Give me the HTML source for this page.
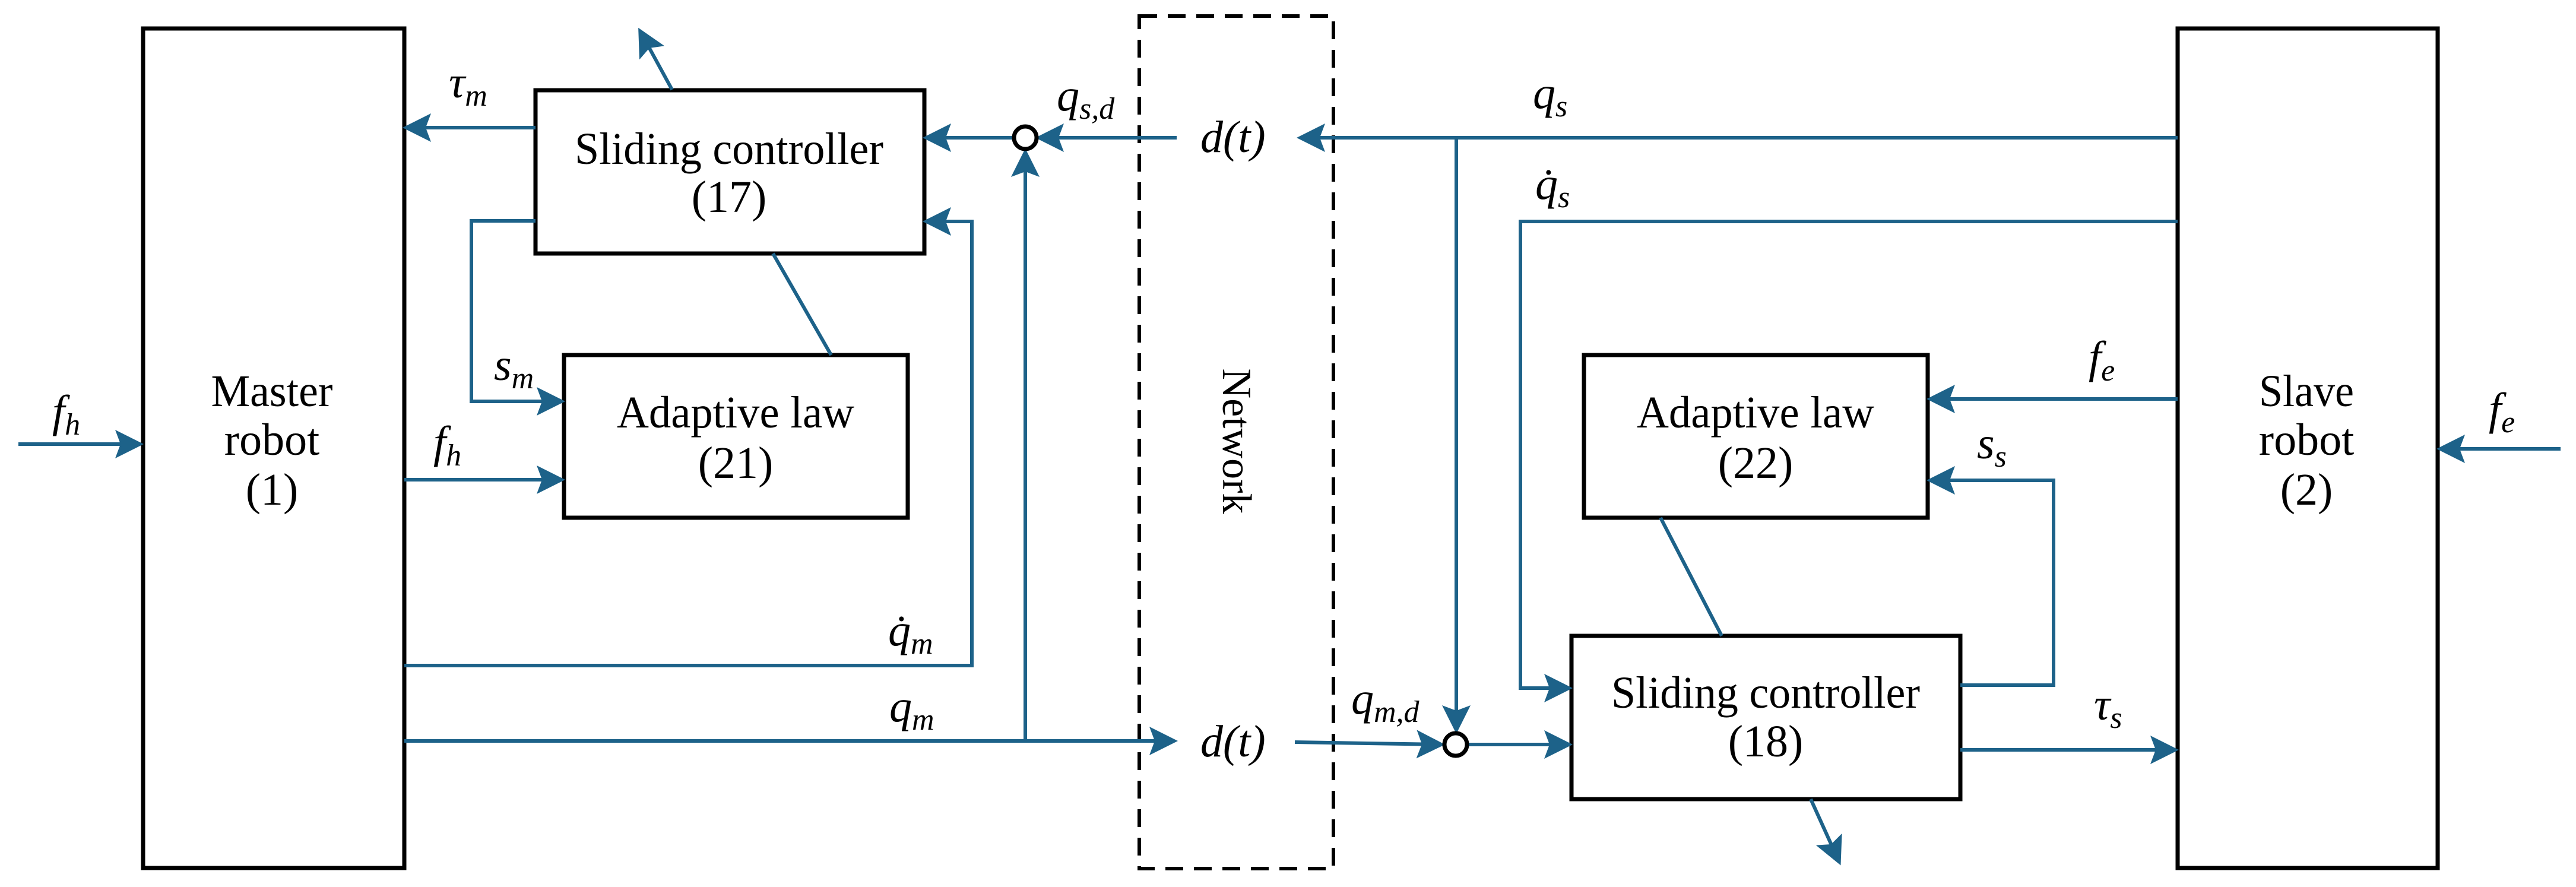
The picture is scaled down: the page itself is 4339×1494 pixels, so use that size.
<!DOCTYPE html>
<html><head><meta charset="utf-8"><style>html,body{margin:0;padding:0;background:#fff}svg{display:block}</style></head>
<body>
<svg width="4339" height="1494" viewBox="0 0 4339 1494" xmlns="http://www.w3.org/2000/svg">
<defs>
<marker id="a" markerWidth="9" markerHeight="9" refX="7" refY="4.5" orient="auto" markerUnits="strokeWidth">
<path d="M0,0.5 L8,4.5 L0,8.5 L1.5,4.5 Z" fill="#1d6289"/></marker>
</defs>
<g fill="none" stroke="#000" stroke-width="7">
<rect x="241" y="48" width="440" height="1414"/>
<rect x="3668" y="48" width="438" height="1414"/>
<rect x="902" y="152" width="655" height="275"/>
<rect x="950" y="598" width="579" height="274"/>
<rect x="2668" y="598" width="579" height="274"/>
<rect x="2647" y="1071" width="655" height="275"/>
<rect x="1919" y="27" width="327" height="1436" stroke-dasharray="30,18" stroke-width="6"/>
</g>
<g fill="none" stroke="#1d6289" stroke-width="6">
<line x1="31" y1="748" x2="236" y2="748" marker-end="url(#a)"/>
<line x1="902" y1="215" x2="684" y2="215" marker-end="url(#a)"/>
<line x1="1132" y1="151" x2="1078" y2="52" marker-end="url(#a)"/>
<line x1="1982" y1="232" x2="1750" y2="232" marker-end="url(#a)"/>
<line x1="1707" y1="232" x2="1560" y2="232" marker-end="url(#a)"/>
<line x1="1727" y1="1248" x2="1727" y2="256" marker-end="url(#a)"/>
<polyline points="902,372 794,372 794,676 946,676" marker-end="url(#a)"/>
<line x1="681" y1="808" x2="946" y2="808" marker-end="url(#a)"/>
<polyline points="681,1121 1637,1121 1637,373 1560,373" marker-end="url(#a)"/>
<line x1="681" y1="1248" x2="1978" y2="1248" marker-end="url(#a)"/>
<line x1="1302" y1="427" x2="1400" y2="598"/>
<line x1="3668" y1="232" x2="2190" y2="232" marker-end="url(#a)"/>
<line x1="2453" y1="232" x2="2453" y2="1230" marker-end="url(#a)"/>
<polyline points="3668,373 2561,373 2561,1159 2643,1159" marker-end="url(#a)"/>
<line x1="2181" y1="1250" x2="2428" y2="1254" marker-end="url(#a)"/>
<line x1="2474" y1="1254" x2="2643" y2="1254" marker-end="url(#a)"/>
<line x1="3668" y1="672" x2="3251" y2="672" marker-end="url(#a)"/>
<polyline points="3302,1154 3459,1154 3459,809 3251,809" marker-end="url(#a)"/>
<line x1="3302" y1="1263" x2="3664" y2="1263" marker-end="url(#a)"/>
<line x1="3050" y1="1346" x2="3098" y2="1452" marker-end="url(#a)"/>
<line x1="2797" y1="872" x2="2900" y2="1071"/>
<line x1="4313" y1="756" x2="4110" y2="756" marker-end="url(#a)"/>
</g>
<circle cx="1727" cy="232" r="19" fill="#fff" stroke="#000" stroke-width="7"/>
<circle cx="2452" cy="1254" r="19" fill="#fff" stroke="#000" stroke-width="7"/>
<g font-family="Liberation Serif, serif" font-size="76" fill="#000" text-anchor="middle">
<text x="458" y="684" textLength="205" lengthAdjust="spacingAndGlyphs">Master</text>
<text x="458" y="766">robot</text>
<text x="458" y="850">(1)</text>
<text x="3885" y="684" textLength="160" lengthAdjust="spacingAndGlyphs">Slave</text>
<text x="3885" y="766">robot</text>
<text x="3885" y="850">(2)</text>
<text x="1228" y="276" textLength="520" lengthAdjust="spacingAndGlyphs">Sliding controller</text>
<text x="1228" y="357">(17)</text>
<text x="1239" y="720" textLength="400" lengthAdjust="spacingAndGlyphs">Adaptive law</text>
<text x="1239" y="805">(21)</text>
<text x="2957" y="720" textLength="400" lengthAdjust="spacingAndGlyphs">Adaptive law</text>
<text x="2957" y="805">(22)</text>
<text x="2974" y="1192" textLength="520" lengthAdjust="spacingAndGlyphs">Sliding controller</text>
<text x="2974" y="1274">(18)</text>
<text transform="translate(2060,743) rotate(90)" font-size="70">Network</text>
</g>
<g font-family="Liberation Serif, serif" font-style="italic" font-size="76" fill="#000">
<text x="2022" y="256">d(t)</text>
<text x="2022" y="1274">d(t)</text>
<text x="88" y="718">f<tspan font-size="52" dy="14">h</tspan></text>
<text x="730" y="770">f<tspan font-size="52" dy="14">h</tspan></text>
<text x="756" y="164">τ<tspan font-size="52" dy="14">m</tspan></text>
<text x="832" y="640">s<tspan font-size="52" dy="14">m</tspan></text>
<text x="1780" y="186">q<tspan font-size="52" dy="14">s,d</tspan></text>
<text x="1496" y="1087">q̇<tspan font-size="52" dy="14">m</tspan></text>
<text x="1498" y="1215">q<tspan font-size="52" dy="14">m</tspan></text>
<text x="2582" y="182">q<tspan font-size="52" dy="14">s</tspan></text>
<text x="2586" y="335">q̇<tspan font-size="52" dy="14">s</tspan></text>
<text x="2276" y="1202">q<tspan font-size="52" dy="14">m,d</tspan></text>
<text x="3518" y="627">f<tspan font-size="52" dy="14">e</tspan></text>
<text x="3330" y="772">s<tspan font-size="52" dy="14">s</tspan></text>
<text x="3527" y="1212">τ<tspan font-size="52" dy="14">s</tspan></text>
<text x="4192" y="714">f<tspan font-size="52" dy="14">e</tspan></text>
</g>
</svg>
</body></html>
